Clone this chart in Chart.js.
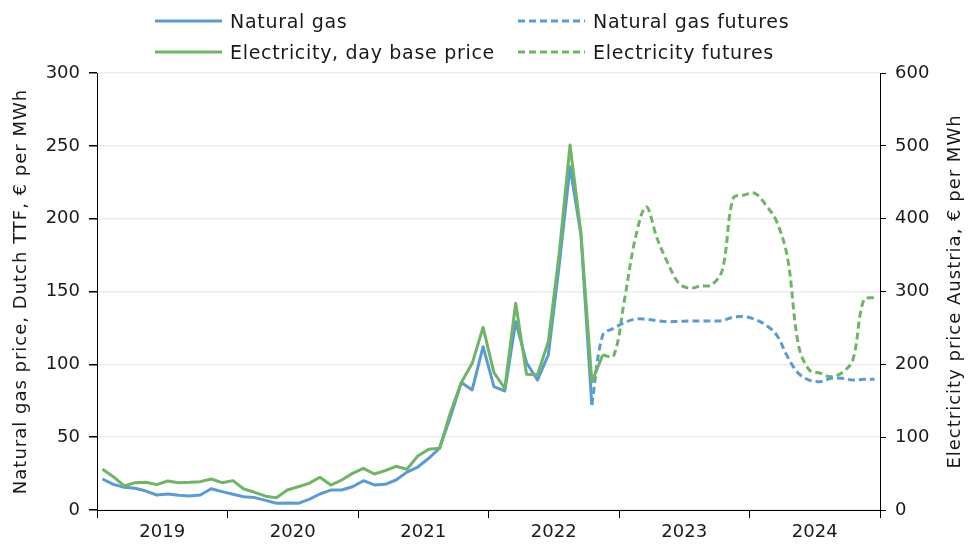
<!DOCTYPE html>
<html>
<head>
<meta charset="utf-8">
<script src="https://cdn.jsdelivr.net/npm/chart.js@4.4.1/dist/chart.umd.min.js"></script>
<style>
    html, body { margin: 0; padding: 0; background: #fff; }
    #wrap { position: relative; width: 968px; height: 547px; font-family: "DejaVu Sans", sans-serif; }
    .leg { position: absolute; display: flex; align-items: center; font-size: 19px; letter-spacing: 0.7px; color: #1a1a1a; white-space: nowrap; }
    .leg svg { margin-right: 8px; }
</style>
</head>
<body>
<div id="wrap">
    <canvas id="priceChart" width="968" height="547"></canvas>
    <div id="legend"></div>
</div>
<script>
// monthly values, index 0 = Jan 2019
const yearLabels = ["2019", "2020", "2021", "2022", "2023", "2024"];

const gasHistStart = 0;
const gasHist = [
    21.3, 17.6, 15.6, 14.9, 13.0, 10.3, 11.0, 10.1, 9.6, 10.3, 14.6, 12.6,
    10.8, 9.1, 8.5, 6.6, 4.6, 4.8, 4.6, 7.3, 11.0, 13.7, 13.7, 16.0,
    20.1, 17.2, 17.6, 20.6, 26.0, 29.5, 35.5, 42.4, 64.0, 87.5, 82.4, 112.1,
    84.7, 81.7, 129.3, 101.1, 89.2, 106.4, 168.0, 235.7, 188.8, 72.1
];

const elecHistStart = 0;
const elecHist = [
    55.9, 45.8, 33.0, 37.5, 38.0, 34.8, 39.8, 37.5, 38.0, 38.9, 42.6, 37.5,
    40.3, 28.8, 24.3, 19.0, 16.9, 27.5, 32.0, 36.6, 44.9, 34.3, 41.2, 50.3,
    57.2, 49.4, 54.0, 60.0, 55.9, 74.1, 83.3, 84.7, 134.0, 175.0, 201.4, 250.8,
    188.5, 167.1, 283.8, 186.3, 185.4, 231.1, 352.0, 501.0, 380.0, 176.0, 212.8
];

const gasFutStart = 45;
const gasFut = [
    72.1, 120.1, 124.7, 128.6, 131.1, 130.9, 130.0, 129.3, 129.5, 129.7, 129.7, 129.7,
    130.0, 132.3, 132.7, 130.9, 127.0, 120.1, 105.2, 93.8, 89.2, 88.1, 90.4, 90.4,
    89.2, 89.7, 89.7
];

const elecFutStart = 46;
const elecFut = [
    212.8, 211.4, 288.3, 373.0, 416.5, 373.0, 338.7, 311.3, 304.4, 307.6, 309.0,
    329.5, 428.0, 432.5, 434.8, 418.8, 395.9, 346.0, 226.5, 192.2, 187.7, 183.0,
    188.5, 206.0, 288.3, 292.0
];

const leftTitle = "Natural gas price, Dutch TTF, € per MWh";
const rightTitle = "Electricity price Austria, € per MWh";

const BLUE = "#5b9bd5";
const GREEN = "#6db663";
const FONT = "DejaVu Sans";

function toPoints(values, start) {
    return values.map((v, k) => ({ x: start + k + 0.5, y: v }));
}

// both axis titles read bottom-to-top, which chart.js won't do on the right side
const axisTitles = {
    id: "axisTitles",
    afterDraw(chart) {
        const c = chart.ctx;
        const area = chart.chartArea;
        const midY = (area.top + area.bottom) / 2;
        c.save();
        c.fillStyle = "#1a1a1a";
        c.font = `18px "${FONT}"`;
        c.textAlign = "center";
        c.textBaseline = "middle";
        if ("letterSpacing" in c) c.letterSpacing = "1px";
        [[21, leftTitle], [955, rightTitle]].forEach(([x, text]) => {
            c.save();
            c.translate(x, midY);
            c.rotate(-Math.PI / 2);
            c.fillText(text, 0, 0);
            c.restore();
        });
        c.restore();
    }
};

function buildLegend() {
    const items = [
        { text: "Natural gas", color: BLUE, dash: false, left: 155, top: 21 },
        { text: "Electricity, day base price", color: GREEN, dash: false, left: 155, top: 52 },
        { text: "Natural gas futures", color: BLUE, dash: true, left: 518, top: 21 },
        { text: "Electricity futures", color: GREEN, dash: true, left: 518, top: 52 }
    ];
    const box = document.getElementById("legend");
    items.forEach(item => {
        const div = document.createElement("div");
        div.className = "leg";
        div.style.left = item.left + "px";
        div.style.top = (item.top - 12) + "px";
        div.style.height = "24px";
        const dash = item.dash ? ' stroke-dasharray="7 4"' : "";
        div.innerHTML =
            `<svg width="67" height="6"><line x1="0" y1="3" x2="67" y2="3" stroke="${item.color}" stroke-width="3"${dash}/></svg>` +
            `<span>${item.text}</span>`;
        box.appendChild(div);
    });
}

function renderChart() {
    const ctx = document.getElementById("priceChart");

    new Chart(ctx, {
        type: "line",
        data: {
            datasets: [
                {
                    label: "Electricity, day base price",
                    data: toPoints(elecHist, elecHistStart),
                    borderColor: GREEN,
                    borderWidth: 3,
                    borderJoinStyle: "round",
                    pointRadius: 0,
                    tension: 0,
                    yAxisID: "y2"
                },
                {
                    label: "Natural gas",
                    data: toPoints(gasHist, gasHistStart),
                    borderColor: BLUE,
                    borderWidth: 3,
                    borderJoinStyle: "round",
                    pointRadius: 0,
                    tension: 0,
                    yAxisID: "y"
                },
                {
                    label: "Natural gas futures",
                    data: toPoints(gasFut, gasFutStart),
                    borderColor: BLUE,
                    borderWidth: 3,
                    borderDash: [7, 4],
                    borderJoinStyle: "round",
                    pointRadius: 0,
                    tension: 0.35,
                    yAxisID: "y"
                },
                {
                    label: "Electricity futures",
                    data: toPoints(elecFut, elecFutStart),
                    borderColor: GREEN,
                    borderWidth: 3,
                    borderDash: [7, 4],
                    borderJoinStyle: "round",
                    pointRadius: 0,
                    tension: 0.35,
                    yAxisID: "y2"
                }
            ]
        },
        options: {
            responsive: false,
            animation: false,
            layout: { padding: { top: 73, left: 0, right: 0, bottom: 0 } },
            plugins: {
                legend: { display: false },
                tooltip: { enabled: false }
            },
            scales: {
                x: {
                    type: "linear",
                    min: 0,
                    max: 72,
                    afterBuildTicks: scale => {
                        const ticks = [];
                        for (let v = 0; v <= 72; v += 6) ticks.push({ value: v });
                        scale.ticks = ticks;
                    },
                    afterFit: scale => { scale.height = 37; },
                    border: { display: true, color: "#000", width: 1 },
                    grid: {
                        drawOnChartArea: false,
                        drawTicks: true,
                        tickLength: 8,
                        tickColor: c => (c.tick && c.tick.value % 12 === 0) ? "#000" : "rgba(0,0,0,0)"
                    },
                    ticks: {
                        autoSkip: false,
                        maxRotation: 0,
                        padding: 4,
                        color: "#1a1a1a",
                        font: { family: FONT, size: 18 },
                        callback: v => (v % 12 === 6) ? yearLabels[(v - 6) / 12] : ""
                    }
                },
                y: {
                    position: "left",
                    min: 0,
                    max: 300,
                    afterFit: scale => { scale.width = 97; },
                    border: { display: true, color: "#000", width: 1 },
                    grid: {
                        color: "#ececec",
                        lineWidth: 1.5,
                        drawTicks: true,
                        tickLength: 8,
                        tickColor: "#000"
                    },
                    ticks: {
                        stepSize: 50,
                        padding: 9,
                        color: "#1a1a1a",
                        font: { family: FONT, size: 18 }
                    }
                },
                y2: {
                    position: "right",
                    min: 0,
                    max: 600,
                    afterFit: scale => { scale.width = 88; },
                    border: { display: true, color: "#000", width: 1 },
                    grid: {
                        drawOnChartArea: false,
                        drawTicks: true,
                        tickLength: 6,
                        tickColor: "#000"
                    },
                    ticks: {
                        stepSize: 100,
                        padding: 9,
                        color: "#1a1a1a",
                        font: { family: FONT, size: 18 }
                    }
                }
            }
        },
        plugins: [axisTitles]
    });
}

buildLegend();
renderChart();
</script>
</body>
</html>
